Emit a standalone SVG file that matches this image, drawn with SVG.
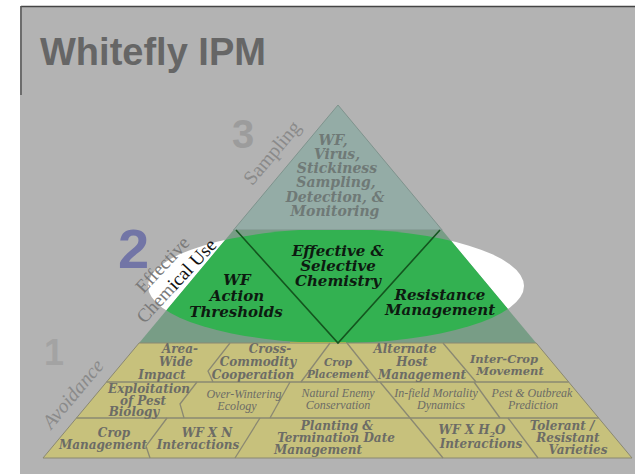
<svg xmlns="http://www.w3.org/2000/svg" width="635" height="474" viewBox="0 0 635 474">
<defs>
<style>
.bg{fill:#b3b3b3}
.title{font-family:"Liberation Sans",Arial,sans-serif;font-weight:bold;font-size:38px;fill:#666}
.num{font-family:"Liberation Sans",Arial,sans-serif;font-weight:bold}
.side{font-family:"Liberation Serif","Times New Roman",serif;font-size:20px;fill:#8a8a8a}
.top{font-family:"DejaVu Serif",serif;font-weight:bold;font-style:italic;font-size:14px;fill:#6f7976;text-anchor:middle}
.mid{font-family:"DejaVu Serif",serif;font-weight:bold;font-style:italic;font-size:15px;fill:#0d1a10;text-anchor:middle}
.low{font-family:"DejaVu Serif",serif;font-weight:bold;font-style:italic;font-size:12px;fill:#6c6c66;text-anchor:middle}
.cond{font-family:"Liberation Serif","Times New Roman",serif;font-style:italic;font-size:12px;fill:#6c6c66;text-anchor:middle}
.div{fill:none;stroke:#8a8872;stroke-width:1.3}
.gdiv{fill:none;stroke:#14551f;stroke-width:1.6}
</style>
<clipPath id="bandClip"><polygon points="233.5,230 442.1,230 536.2,343 139.1,343"/></clipPath>
</defs>
<rect x="0" y="0" width="635" height="474" fill="#ffffff"/>
<rect class="bg" x="20" y="6" width="615" height="468"/>
<line x1="21" y1="6.5" x2="635" y2="6.5" stroke="#454545" stroke-width="1.5"/>
<line x1="21" y1="6" x2="21" y2="95" stroke="#555" stroke-width="1.5"/>
<text class="title" x="40" y="65">Whitefly IPM</text>

<!-- white ellipse under pyramid -->
<ellipse cx="336" cy="286" rx="188" ry="57" fill="#ffffff"/>

<!-- pyramid levels -->
<g id="level-sampling">
<polygon points="338,105 442.1,230 233.5,230" fill="#94aca6" stroke="#7f938d" stroke-width="1"/>
<text class="top" x="333" y="145">WF,</text>
<text class="top" x="337" y="159">Virus,</text>
<text class="top" x="337" y="173">Stickiness</text>
<text class="top" x="336" y="187">Sampling,</text>
<text class="top" x="335" y="202">Detection, &amp;</text>
<text class="top" x="335" y="216">Monitoring</text>
</g>

<g id="level-chemical">
<polygon points="233.5,230 442.1,230 536.2,343 139.1,343" fill="#789d86"/>
<ellipse cx="336" cy="286" rx="188" ry="57" fill="#33b151" clip-path="url(#bandClip)"/>
<line x1="290" y1="343" x2="346" y2="343" stroke="#e5e02a" stroke-width="1.5"/>
</g>

<g id="level-avoidance">
<polygon points="139.1,343 536.2,343 632,458 43,458" fill="#c7c17c" stroke="#8a8872" stroke-width="1"/>
</g>

<!-- connectors / dividers -->
<g id="connectors">
<polyline class="gdiv" points="236,230 338,343 440,230"/>
<line class="div" x1="106.5" y1="382" x2="568.7" y2="382"/>
<line class="div" x1="76.4" y1="418" x2="598.7" y2="418"/>
<polyline class="div" points="230,343 208,371 213,382"/>
<polyline class="div" points="330,343 301,382"/>
<polyline class="div" points="347,343 378,382"/>
<polyline class="div" points="443,343 476,382"/>
<polyline class="div" points="197,382 180,404 184,418"/>
<polyline class="div" points="290,382 270,418"/>
<polyline class="div" points="380,382 410,418"/>
<polyline class="div" points="474,382 500,418"/>
<polyline class="div" points="167,418 146,446 150,458"/>
<polyline class="div" points="260,418 235,458"/>
<polyline class="div" points="410,418 443,458"/>
<polyline class="div" points="508,418 538,458"/>
</g>

<!-- middle band nodes -->
<g id="wf-action-thresholds">
<text class="mid" x="237" y="285">WF</text>
<text class="mid" x="237" y="301">Action</text>
<text class="mid" x="236" y="317">Thresholds</text>
</g>
<g id="effective-selective-chemistry">
<text class="mid" x="338" y="256">Effective &amp;</text>
<text class="mid" x="338" y="271">Selective</text>
<text class="mid" x="338" y="286">Chemistry</text>
</g>
<g id="resistance-management">
<text class="mid" x="440" y="300">Resistance</text>
<text class="mid" x="440" y="315">Management</text>
</g>

<!-- bottom band nodes -->
<g id="area-wide-impact">
<text class="low" x="180" y="353">Area-</text>
<text class="low" x="176" y="366">Wide</text>
<text class="low" x="162" y="379">Impact</text>
</g>
<g id="cross-commodity">
<text class="low" x="270" y="353">Cross-</text>
<text class="low" x="258" y="366">Commodity</text>
<text class="low" x="253" y="379">Cooperation</text>
</g>
<g id="crop-placement">
<text class="low" x="338" y="366" style="font-size:10.5px">Crop</text>
<text class="low" x="338" y="378" style="font-size:10.5px">Placement</text>
</g>
<g id="alternate-host">
<text class="low" x="405" y="353">Alternate</text>
<text class="low" x="412" y="366">Host</text>
<text class="low" x="422" y="379">Management</text>
</g>
<g id="inter-crop">
<text class="low" x="504" y="363" style="font-size:11.5px">Inter-Crop</text>
<text class="low" x="510" y="375" style="font-size:11.5px">Movement</text>
</g>

<g id="exploitation">
<text class="low" x="149" y="393">Exploitation</text>
<text class="low" x="143" y="405">of Pest</text>
<text class="low" x="134" y="416">Biology</text>
</g>
<g id="over-wintering">
<text class="cond" x="244" y="398">Over-Wintering</text>
<text class="cond" x="237" y="410">Ecology</text>
</g>
<g id="natural-enemy">
<text class="cond" x="338" y="397">Natural Enemy</text>
<text class="cond" x="338" y="409">Conservation</text>
</g>
<g id="infield-mortality">
<text class="cond" x="436" y="397">In-field Mortality</text>
<text class="cond" x="441" y="409">Dynamics</text>
</g>
<g id="pest-outbreak">
<text class="cond" x="532" y="397">Pest &amp; Outbreak</text>
<text class="cond" x="533" y="409">Prediction</text>
</g>

<g id="crop-management">
<text class="low" x="114" y="437">Crop</text>
<text class="low" x="103" y="449">Management</text>
</g>
<g id="wf-x-n">
<text class="low" x="207" y="437">WF X N</text>
<text class="low" x="198" y="449">Interactions</text>
</g>
<g id="planting-termination">
<text class="low" x="337" y="430">Planting &amp;</text>
<text class="low" x="336" y="442">Termination Date</text>
<text class="low" x="318" y="454">Management</text>
</g>
<g id="wf-x-h2o">
<text class="low" x="472" y="434">WF X H<tspan dy="3" style="font-size:8px">2</tspan><tspan dy="-3">O</tspan></text>
<text class="low" x="481" y="448">Interactions</text>
</g>
<g id="tolerant-varieties">
<text class="low" x="562" y="430">Tolerant /</text>
<text class="low" x="568" y="442">Resistant</text>
<text class="low" x="578" y="454">Varieties</text>
</g>

<!-- side labels -->
<g id="label-3">
<text class="num" x="232" y="148" font-size="40" fill="#9c9c9c">3</text>
<text class="side" text-anchor="middle" transform="translate(277,157) rotate(-50)">Sampling</text>
</g>
<g id="label-2">
<text class="num" x="118" y="268" font-size="56" fill="#7275a6">2</text>
<text class="side" text-anchor="middle" transform="translate(167,269) rotate(-47)" style="font-size:19px;fill:#7a7a7a">Effective</text>
<text class="side" text-anchor="middle" transform="translate(181,285) rotate(-47)" style="font-size:19px;fill:#7a7a7a">Chem<tspan fill="#111">ical Use</tspan></text>
</g>
<g id="label-1">
<text class="num" x="44" y="365" font-size="36" fill="#a3a3a3">1</text>
<text class="side" text-anchor="middle" font-style="italic" transform="translate(78,398) rotate(-50)">Avoidance</text>
</g>
</svg>
